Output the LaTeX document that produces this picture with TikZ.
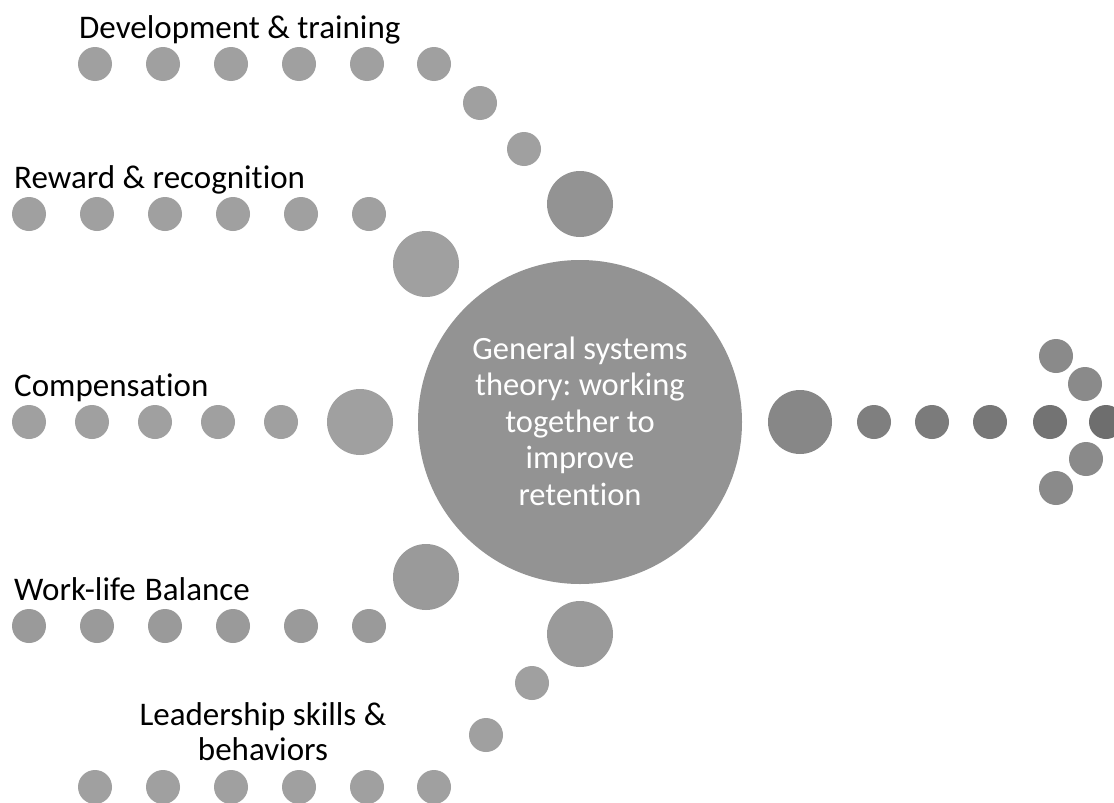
\documentclass[tikz,border=0pt]{standalone}
\usepackage{fontspec}
\setmainfont[Ligatures=NoCommon]{Carlito}
\frenchspacing
\definecolor{dotA}{HTML}{A0A0A0}
\definecolor{dotB}{HTML}{9A9A9A}
\definecolor{hub}{HTML}{939393}
\definecolor{rbig}{HTML}{878787}
\definecolor{arr}{HTML}{8A8A8A}
\tikzset{
  dot/.style={circle, inner sep=0pt, minimum size=34pt, fill=dotA, draw=none},
  bigdot/.style={circle, inner sep=0pt, minimum size=66pt, fill=dotB, draw=none},
  lbl/.style={anchor=base west, font=\fontsize{33}{37}\selectfont, text=black, inner sep=0pt},
}
\begin{document}
\begin{tikzpicture}[x=1pt,y=-1pt]
\useasboundingbox (0,0) rectangle (1114,803);
\clip (0,0) rectangle (1114,803);
\fill[white] (0,0) rectangle (1114,803);
% central hub
\node[circle, inner sep=0pt, minimum size=324pt, fill=hub, draw=none] (hub) at (580,422) {};
\node[text=white, align=center, inner sep=0pt, anchor=base,
      font=\fontsize{32.5}{36.5}\selectfont] (hubtext) at (580,505)
  {General systems\\theory: working\\together to\\improve\\retention};
% Development & training
\node[lbl] (tdev) at (79,38) {Development \& training};
\foreach \x [count=\i] in {95,163,231,299,367,434}
  \node[dot] (dev\i) at (\x,64) {};
\node[dot] (dev7) at (480,103) {};
\node[dot] (dev8) at (524,149) {};
\node[bigdot, fill=hub] (dev9) at (580,204) {};
% Reward & recognition
\node[lbl] (trew) at (14,188) {Reward \& recognition};
\foreach \x [count=\i] in {29,97,165,233,301,369}
  \node[dot] (rew\i) at (\x,214) {};
\node[bigdot, fill=dotA] (rew7) at (426,264) {};
% Compensation
\node[lbl] (tcomp) at (14,396) {Compensation};
\foreach \x [count=\i] in {29,92,155,218,281}
  \node[dot] (comp\i) at (\x,422) {};
\node[bigdot, fill=dotA] (comp6) at (360,422) {};
% Work-life Balance
\node[lbl] (twork) at (14,600) {Work-life\hspace{0.28em}Balance};
\foreach \x [count=\i] in {29,97,165,233,301,369}
  \node[dot, fill=dotB] (work\i) at (\x,626) {};
\node[bigdot] (work7) at (426,577) {};
% Leadership
\node[align=center, font=\fontsize{33}{35}\selectfont, inner sep=0pt, anchor=base] (tlead) at (263,760) {Leadership skills \&\\behaviors};
\foreach \x [count=\i] in {95,163,231,299,367,434}
  \node[dot] (lead\i) at (\x,787) {};
\node[dot] (lead7) at (486,735) {};
\node[dot] (lead8) at (532,683) {};
\node[bigdot] (lead9) at (580,634) {};
% right arrow
\node[bigdot, fill=rbig, minimum size=64pt] (out0) at (800,422) {};
\node[dot, fill={rgb,255:red,127;green,127;blue,127}] (out1) at (874,422) {};
\node[dot, fill={rgb,255:red,123;green,123;blue,123}] (out2) at (932,422) {};
\node[dot, fill={rgb,255:red,119;green,119;blue,119}] (out3) at (990,422) {};
\node[dot, fill={rgb,255:red,115;green,115;blue,115}] (out4) at (1050,422) {};
\node[dot, fill={rgb,255:red,110;green,110;blue,110}] (out5) at (1106,422) {};
\node[dot, fill=arr] (up1) at (1056,356) {};
\node[dot, fill=arr] (up2) at (1085,384) {};
\node[dot, fill=arr] (dn2) at (1086,459) {};
\node[dot, fill=arr] (dn1) at (1056,488) {};
\end{tikzpicture}
\end{document}
